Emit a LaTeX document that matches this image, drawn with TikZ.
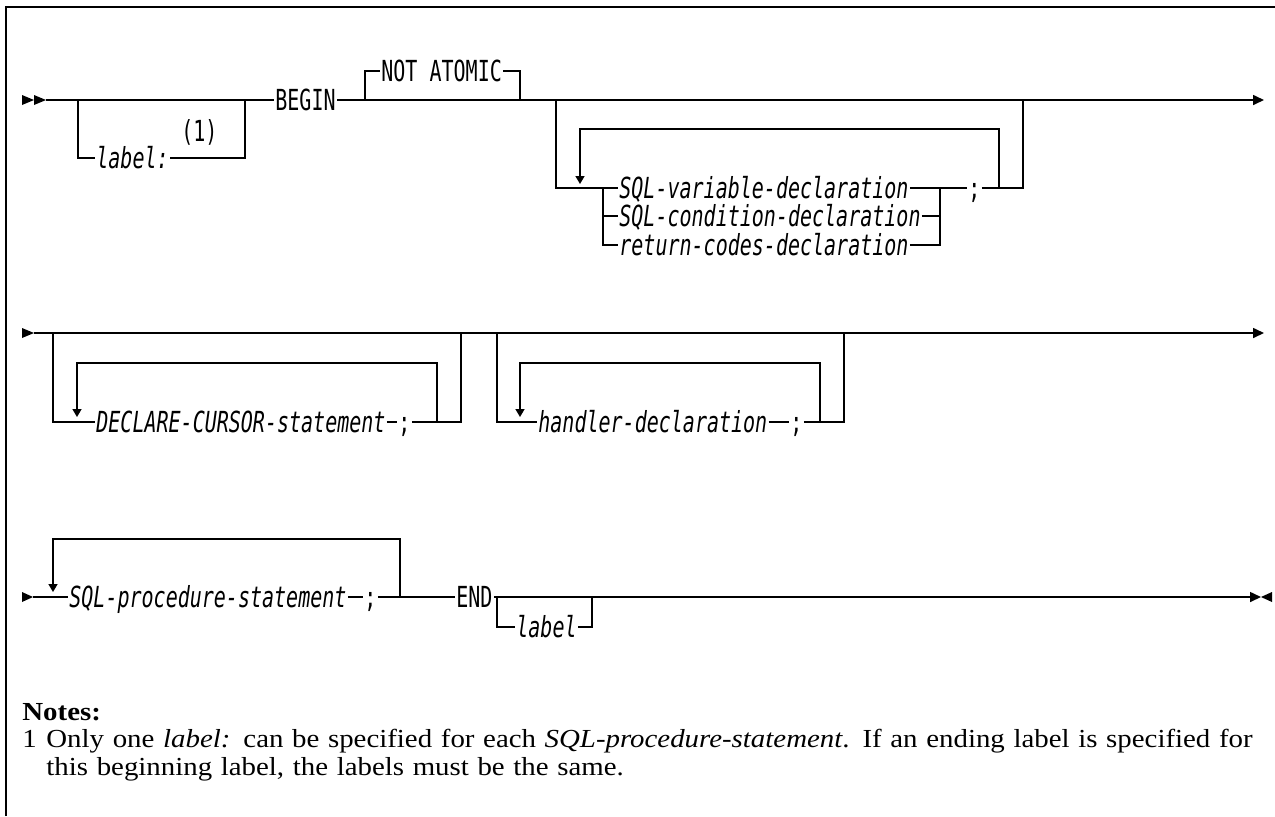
\documentclass[tikz,border=0pt]{standalone}
\usepackage{fontspec}
\setmainfont{Liberation Serif}[FakeStretch=1.11]
\newfontfamily\railfont{DejaVu Sans Mono}[FakeStretch=0.69]
\newfontfamily\railit{DejaVu Sans Mono Oblique}[FakeStretch=0.69]
\usetikzlibrary{arrows.meta}

\tikzset{
  rail/.style={line width=0.8pt},
  loopback/.style={rail, -{Triangle[length=4pt, width=4.5pt]}},
  fin/.style={rail, -{Triangle[length=5.5pt, width=5pt]}},
  kw/.style={font=\railfont\fontsize{14.5}{16}\selectfont, anchor=west,
    inner xsep=0.5pt, inner ysep=0pt, text height=10.5pt, text depth=0pt},
  var/.style={kw, font=\railit\fontsize{14.5}{16}\selectfont},
  notefont/.style={font=\fontsize{13}{14}\selectfont, inner sep=0pt, anchor=base west},
}

\begin{document}
\begin{tikzpicture}[x=0.5pt, y=-0.5pt]

  \useasboundingbox (0,0) rectangle (1275,816);

  % Marco
  \draw[line width=1.2pt] (6,816) -- (6,7) -- (1275,7);

  % Fila 1: label, BEGIN, NOT ATOMIC
  \fill (22,95) -- (34,100) -- (22,105) -- cycle;
  \fill (34,95) -- (46,100) -- (34,105) -- cycle;
  \coordinate (r1) at (46,100);
  \coordinate (e1) at (1264,100);
  \node[kw] (begin) at (274,100) {BEGIN};
  \draw[rail] (r1) -- (begin.west);
  \draw[fin] (begin.east) -- (e1);

  \node[var] (lbl1) at (95,158) {label:};
  \node[kw] (ref1) at (180,131) {(1)};
  \coordinate (la) at (78,100);
  \coordinate (lb) at (245,100);
  \draw[rail] (la) |- (lbl1.west);
  \draw[rail] (lbl1.east) -| (lb);

  \node[kw] (natom) at (380,71) {NOT ATOMIC};
  \coordinate (na) at (365,100);
  \coordinate (nb) at (520,100);
  \draw[rail] (na) |- (natom.west);
  \draw[rail] (natom.east) -| (nb);

  % Declaraciones repetibles
  \coordinate (da) at (556,100);
  \coordinate (db) at (1023,100);
  \coordinate (ca) at (603,188);
  \coordinate (cb) at (940,188);
  \node[var] (sqlvar) at (618,188) {SQL-variable-declaration};
  \node[var] (sqlcond) at (618,216) {SQL-condition-declaration};
  \node[var] (retcode) at (618,245) {return-codes-declaration};
  \node[kw] (semi1) at (967,188) {;};
  \draw[rail] (da) |- (sqlvar.west);
  \draw[rail] (ca) |- (retcode.west);
  \draw[rail] (ca |- sqlcond) -- (sqlcond.west);
  \draw[rail] (sqlvar.east) -- (semi1.west);
  \draw[rail] (sqlcond.east) -- (cb |- sqlcond);
  \draw[rail] (retcode.east) -| (cb);
  \draw[rail] (semi1.east) -| (db);
  \coordinate (lp1) at (999,188);
  \coordinate (lt1) at (580,129);
  \coordinate (tip1) at (580,184);
  \draw[loopback] (lp1) |- (lt1) -- (tip1);

  % Fila 2: DECLARE-CURSOR y handler
  \fill (22,328) -- (34,333) -- (22,338) -- cycle;
  \coordinate (r2) at (34,333);
  \coordinate (e2) at (1264,333);
  \draw[fin] (r2) -- (e2);

  \coordinate (ga) at (53,333);
  \coordinate (gb) at (461,333);
  \node[var] (dcs) at (95,422) {DECLARE-CURSOR-statement};
  \node[kw] (semi2) at (397,422) {;};
  \draw[rail] (ga) |- (dcs.west);
  \draw[rail] (dcs.east) -- (semi2.west);
  \draw[rail] (semi2.east) -| (gb);
  \coordinate (lp2) at (437,422);
  \coordinate (lt2) at (77,363);
  \coordinate (tip2) at (77,417);
  \draw[loopback] (lp2) |- (lt2) -- (tip2);

  \coordinate (gc) at (497,333);
  \coordinate (gd) at (844,333);
  \node[var] (hdl) at (537,422) {handler-declaration};
  \node[kw] (semi3) at (789,422) {;};
  \draw[rail] (gc) |- (hdl.west);
  \draw[rail] (hdl.east) -- (semi3.west);
  \draw[rail] (semi3.east) -| (gd);
  \coordinate (lp3) at (820,422);
  \coordinate (lt3) at (520,363);
  \coordinate (tip3) at (520,417);
  \draw[loopback] (lp3) |- (lt3) -- (tip3);

  % Fila 3: sentencias y END
  \fill (22,592) -- (33,597) -- (22,602) -- cycle;
  \coordinate (r3) at (33,597);
  \node[var] (sps) at (68,597) {SQL-procedure-statement};
  \node[kw] (semi4) at (363,597) {;};
  \node[kw] (endkw) at (455,597) {END};
  \draw[rail] (r3) -- (sps.west);
  \draw[rail] (sps.east) -- (semi4.west);
  \draw[rail] (semi4.east) -- (endkw.west);
  \coordinate (lp4) at (400,597);
  \coordinate (lt4) at (53,539);
  \coordinate (tip4) at (53,592);
  \draw[loopback] (lp4) |- (lt4) -- (tip4);

  \coordinate (ea) at (497,597);
  \coordinate (eb) at (592,597);
  \node[var] (lbl2) at (515,627) {label};
  \draw[rail] (ea) |- (lbl2.west);
  \draw[rail] (lbl2.east) -| (eb);
  \coordinate (e3) at (1261,597);
  \draw[fin] (endkw.east) -- (e3);
  \fill (1272,592) -- (1261,597) -- (1272,602) -- cycle;

  % Notas
  \node[notefont, font=\bfseries\fontsize{13}{14}\selectfont] (notes) at (22,720) {Notes:};
  \node[notefont] (num1) at (22,747) {1};
  \node[notefont, text width=612pt, align=left] (note1) at (46,747)
    {Only one \textit{label:} can be specified for each \textit{SQL-procedure-statement}. If an ending label is specified for\\
this beginning label, the labels must be the same.};

\end{tikzpicture}
\end{document}
